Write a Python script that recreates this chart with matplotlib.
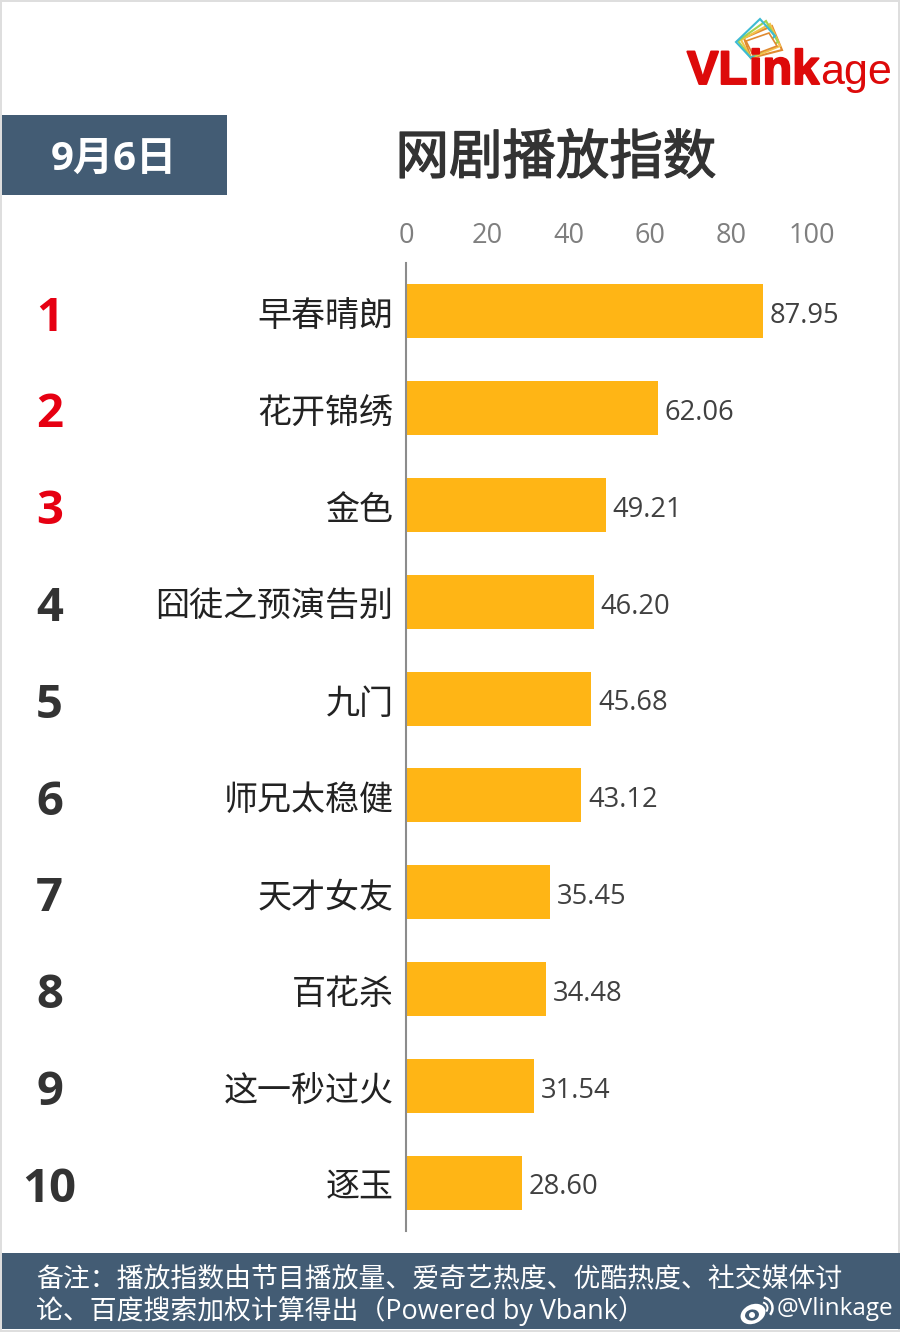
import matplotlib
matplotlib.use("Agg")
import matplotlib.pyplot as plt
import matplotlib.patheffects as pe
from matplotlib.patches import Rectangle, Polygon, Ellipse, Arc
from matplotlib.transforms import blended_transform_factory, ScaledTranslation

plt.rcParams['font.family'] = ['Open Sans', 'Noto Sans CJK SC', 'DejaVu Sans']

# chart data
titles = ["早春晴朗", "花开锦绣", "金色", "囧徒之预演告别", "九门",
          "师兄太稳健", "天才女友", "百花杀", "这一秒过火", "逐玉"]
scores = [87.95, 62.06, 49.21, 46.20, 45.68, 43.12, 35.45, 34.48, 31.54, 28.60]
ranks = ["1", "2", "3", "4", "5", "6", "7", "8", "9", "10"]
x_ticks = [0, 20, 40, 60, 80, 100]

date_label = "9月6日"
chart_title = "网剧播放指数"
note_lines = ["备注：播放指数由节目播放量、爱奇艺热度、优酷热度、社交媒体讨",
              "论、百度搜索加权计算得出（Powered by Vbank）"]
handle = "@Vlinkage"

NAVY = "#435C74"
BAR = "#FFB515"
RED = "#E60012"
LOGO_RED = "#DD0A0A"
DARK = "#333333"

W, H = 900, 1332
fig = plt.figure(figsize=(W / 100, H / 100), dpi=100, facecolor="#DEDEDE")

# backdrop in pixel coordinates: panel, date box, footer band
bg = fig.add_axes([0, 0, 1, 1], zorder=0)
bg.set_xlim(0, W)
bg.set_ylim(H, 0)
bg.axis("off")
bg.add_patch(Rectangle((2, 2), 896, 1328, fc="white", ec="none"))
bg.add_patch(Rectangle((2, 115), 225, 80, fc=NAVY, ec="none"))
bg.add_patch(Rectangle((2, 1253), 898, 76, fc=NAVY, ec="none"))

bg.text(114, 159, date_label, color="white", fontsize=29, fontweight="bold",
        ha="center", va="center")
bg.text(556, 160, chart_title, color=DARK, fontsize=38.5, ha="center", va="center",
        path_effects=[pe.withStroke(linewidth=1.0, foreground=DARK)])
bg.text(36, 1279, note_lines[0], color="white", fontsize=19.35, va="center")
bg.text(36, 1311, note_lines[1], color="white", fontsize=19.35, va="center")
bg.text(777, 1309, handle, color="white", fontsize=17.5, va="center")

# weibo mark
bg.add_patch(Ellipse((753, 1314), 26, 19, angle=-25, fc="white", ec="none"))
bg.add_patch(Ellipse((752, 1315), 14, 11, angle=-10, fc=NAVY, ec="none"))
bg.add_patch(Ellipse((752, 1315), 6, 6, fc="white", ec="none"))
bg.add_patch(Arc((762, 1308), 21, 21, theta1=-80, theta2=40, color="white", lw=1.8))
bg.add_patch(Arc((762, 1308), 11, 11, theta1=-80, theta2=40, color="white", lw=1.4))

# logo cards, back to front
card_sets = [
    ([(744, 38), (772, 26), (782, 50), (751, 58)], "#E08A30"),
    ([(741, 40), (770, 24), (780, 46), (751, 58)], "#F4C24A"),
    ([(738, 41), (766, 21), (778, 42), (751, 58)], "#A5D24E"),
    ([(736, 42), (760, 19), (775, 36), (751, 58)], "#3DBBD3"),
]
for pts, col in card_sets:
    bg.add_patch(Polygon(pts, closed=True, fc="none", ec=col, lw=1.5))
bg.add_patch(Polygon([(746, 41), (769, 33), (777, 46), (753, 55)], closed=True,
                     fc="white", ec="#E08A30", lw=1.2))

logo_stroke = [pe.withStroke(linewidth=1.4, foreground=LOGO_RED)]
bg.text(687, 84, "VL", color=LOGO_RED, fontsize=34, fontweight="bold",
        family=["Liberation Sans"], ha="left", va="baseline", path_effects=logo_stroke)
bg.text(749, 84, "ink", color=LOGO_RED, fontsize=35, fontweight="bold",
        family=["Liberation Sans"], ha="left", va="baseline", path_effects=logo_stroke)
bg.text(820, 84, "age", color=LOGO_RED, fontsize=31,
        family=["Liberation Sans"], ha="left", va="baseline")

# bar chart
ax = fig.add_axes([406 / W, 1 - 1231 / H, 406 / W, 968 / H], zorder=1)
ax.patch.set_alpha(0)
positions = list(range(len(titles)))
bars = ax.barh(positions, scores, height=0.557, color=BAR)
ax.set_xlim(0, 100)
ax.set_ylim(9.5, -0.5)

ax.xaxis.tick_top()
ax.set_xticks(x_ticks)
ax.tick_params(axis="x", length=0, pad=9.5, labelsize=19.5, labelcolor="#7F7F7F")
ax.set_yticks(positions)
ax.set_yticklabels(titles)
ax.tick_params(axis="y", length=0, pad=9, labelsize=24.5, labelcolor="#222222")

# category labels sit slightly below the bar centres
down = ScaledTranslation(0, -2 / 100, fig.dpi_scale_trans)
for lab in ax.get_yticklabels():
    lab.set_transform(lab.get_transform() + down)

for side in ["top", "right", "bottom"]:
    ax.spines[side].set_visible(False)
ax.spines["left"].set_color("#8C8C8C")
ax.spines["left"].set_linewidth(1.5)

for i, v in enumerate(scores):
    ax.annotate(f"{v:.2f}", (v, i), xytext=(5, -3.5), textcoords="offset points",
                va="center", ha="left", fontsize=19.7, color="#404040")

rank_trans = blended_transform_factory(fig.transFigure, ax.transData)
for i, r in enumerate(ranks):
    ax.text(49.5 / W, i + 0.07, r, transform=rank_trans, ha="center", va="center",
            fontsize=34, fontweight="bold", color=RED if i < 3 else DARK)

fig.savefig("out.png", dpi=100, facecolor=fig.get_facecolor())
